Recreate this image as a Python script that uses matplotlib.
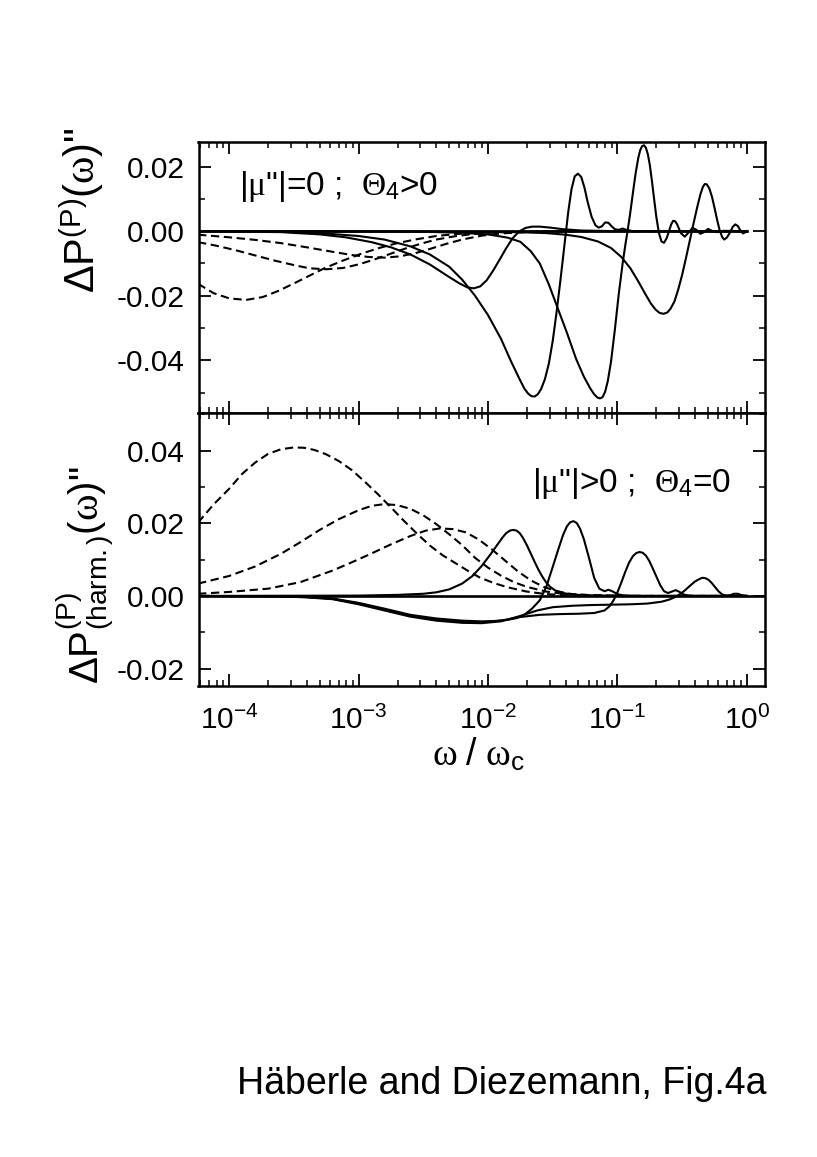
import numpy as np
import matplotlib
matplotlib.use("Agg")
import matplotlib.pyplot as plt
from matplotlib.ticker import LogLocator, FuncFormatter, MultipleLocator, FormatStrFormatter, NullFormatter

plt.rcParams['font.family'] = 'Liberation Sans'
plt.rcParams['mathtext.fontset'] = 'custom'
plt.rcParams['mathtext.rm'] = 'Liberation Serif'
plt.rcParams['mathtext.sf'] = 'Liberation Sans'
plt.rcParams['mathtext.it'] = 'Liberation Serif:italic'
plt.rcParams['axes.unicode_minus'] = False

# ---- data (x given as log10(omega/omega_c)) ----
XLIM = (5.8e-5, 1.38)
TOP_YLIM = (-0.0564, 0.0277)
BOT_YLIM = (-0.0248, 0.0503)
zero_logw = [-4.24, 0.0]
zero_vals = [0.0, 0.0]

# upper panel, dashed
d1_logw = [-4.24, -4.12, -4.0, -3.87, -3.74, -3.62, -3.5, -3.38, -3.26, -3.12, -2.98, -2.84,
           -2.7, -2.55, -2.4, -2.25, -2.1, -1.9, -1.6, -1.2, 0.0]
d1_vals = [-0.0163, -0.0192, -0.0208, -0.0213, -0.0204, -0.0185, -0.0162, -0.0138, -0.0114,
           -0.0091, -0.0070, -0.0052, -0.0037, -0.0025, -0.0015, -0.0009, -0.0005, -0.0002,
           -0.0001, 0.0, 0.0]
d2_logw = [-4.24, -4.1, -3.95, -3.8, -3.65, -3.5, -3.38, -3.25, -3.12, -3.0, -2.88, -2.76,
           -2.64, -2.52, -2.4, -2.26, -2.12, -1.95, -1.75, -1.5, -1.2, 0.0]
d2_vals = [-0.0034, -0.0045, -0.0059, -0.0075, -0.0091, -0.0105, -0.0115, -0.0118, -0.0114,
           -0.0103, -0.0088, -0.0071, -0.0054, -0.0039, -0.0026, -0.0016, -0.0009, -0.0004,
           -0.0002, -0.0001, 0.0, 0.0]
d3_logw = [-4.24, -4.0, -3.8, -3.6, -3.4, -3.2, -3.05, -2.92, -2.8, -2.68, -2.56, -2.44,
           -2.32, -2.2, -2.05, -1.9, -1.7, -1.45, -1.1, 0.0]
d3_vals = [-0.0011, -0.0019, -0.0027, -0.0037, -0.0050, -0.0064, -0.0074, -0.0080, -0.0082,
           -0.0078, -0.0068, -0.0054, -0.0039, -0.0026, -0.0014, -0.0007, -0.0003, -0.0001,
           0.0, 0.0]

# upper panel, solid
sa_logw = [-4.24, -3.6, -3.3, -3.1, -2.9, -2.75, -2.6, -2.45, -2.3, -2.22, -2.16, -2.11,
           -2.06, -2.01, -1.96, -1.91, -1.86, -1.81, -1.76, -1.71, -1.66, -1.6, -1.52, -1.42,
           -1.28, -1.0, 0.0]
sa_vals = [0.0, -0.0003, -0.0010, -0.0019, -0.0034, -0.0050, -0.0072, -0.0103, -0.0142,
           -0.0162, -0.0174, -0.0177, -0.0171, -0.0152, -0.0122, -0.0088, -0.0053, -0.0022,
           -0.0001, 0.0010, 0.0014, 0.0014, 0.0011, 0.0006, 0.0002, 0.0, 0.0]
sb_logw = [-4.24, -3.6, -3.3, -3.0, -2.8, -2.6, -2.45, -2.3, -2.2, -2.1, -2.0, -1.9, -1.82,
           -1.76, -1.72, -1.69, -1.665, -1.64, -1.615, -1.59, -1.56, -1.53, -1.5, -1.47,
           -1.44, -1.41, -1.38, -1.355, -1.33, -1.305, -1.28, -1.255, -1.23, -1.2, -1.17,
           -1.145, -1.12, -1.095, -1.07, -1.045, -1.02, -0.99, -0.96, -0.93, -0.88, 0.0]
sb_vals = [0.0, -0.0002, -0.0006, -0.0015, -0.0026, -0.0047, -0.0072, -0.0110, -0.0150,
           -0.0200, -0.0260, -0.0333, -0.0405, -0.0455, -0.0487, -0.0503, -0.0511, -0.0512,
           -0.0505, -0.0489, -0.0458, -0.0410, -0.0340, -0.0250, -0.0150, -0.0045, 0.0060,
           0.0130, 0.0170, 0.0178, 0.0168, 0.0135, 0.0090, 0.0045, 0.0018, 0.0011, 0.0015,
           0.0027, 0.0026, 0.0015, 0.0006, 0.0004, 0.0008, 0.0004, 0.0, 0.0]
sc_logw = [-4.24, -2.5, -2.2, -2.0, -1.85, -1.75, -1.67, -1.6, -1.53, -1.46, -1.39, -1.32,
           -1.26, -1.21, -1.18, -1.155, -1.135, -1.115, -1.095, -1.075, -1.05, -1.02, -0.99,
           -0.96, -0.94, -0.92, -0.9, -0.88, -0.86, -0.84, -0.825, -0.81, -0.795, -0.78,
           -0.765, -0.75, -0.735, -0.72, -0.7, -0.68, -0.66, -0.64, -0.62, -0.6, -0.585,
           -0.57, -0.555, -0.54, -0.51, -0.48, -0.45, -0.42, -0.39, -0.36, -0.33, -0.3,
           -0.27, -0.23, -0.18, 0.0]
sc_vals = [0.0, -0.0002, -0.0005, -0.0010, -0.0020, -0.0033, -0.0062, -0.0100, -0.0165,
           -0.0240, -0.0315, -0.0395, -0.0450, -0.0487, -0.0505, -0.0515, -0.0518, -0.0514,
           -0.0497, -0.0465, -0.0405, -0.0305, -0.0195, -0.0100, -0.0045, 0.0005, 0.0060,
           0.0120, 0.0178, 0.0225, 0.0250, 0.0263, 0.0266, 0.0258, 0.0238, 0.0205, 0.0160,
           0.0110, 0.0045, -0.0005, -0.0032, -0.0036, -0.0022, 0.0002, 0.0021, 0.0032,
           0.0031, 0.0022, -0.0006, -0.0017, -0.0004, 0.0010, 0.0004, -0.0008, -0.0003,
           0.0007, 0.0001, -0.0003, 0.0001, 0.0]
sd_logw = [-4.24, -2.2, -1.9, -1.7, -1.55, -1.4, -1.28, -1.15, -1.05, -0.97, -0.9, -0.84,
           -0.78, -0.74, -0.705, -0.675, -0.645, -0.615, -0.59, -0.56, -0.53, -0.5, -0.47,
           -0.44, -0.41, -0.385, -0.36, -0.34, -0.325, -0.31, -0.29, -0.27, -0.25, -0.23,
           -0.21, -0.19, -0.175, -0.155, -0.13, -0.11, -0.09, -0.07, -0.05, -0.03, -0.01,
           0.0]
sd_vals = [0.0, -0.0001, -0.0002, -0.0004, -0.0006, -0.0011, -0.0018, -0.0032, -0.0052,
           -0.0080, -0.0115, -0.0155, -0.0198, -0.0225, -0.0243, -0.0253, -0.0256, -0.0252,
           -0.0240, -0.0218, -0.0180, -0.0135, -0.0082, -0.0027, 0.0028, 0.0072, 0.0113,
           0.0137, 0.0146, 0.0145, 0.0132, 0.0107, 0.0072, 0.0035, 0.0002, -0.0019, -0.0026,
           -0.0020, -0.0004, 0.0013, 0.0021, 0.0016, 0.0002, -0.0007, -0.0003, 0.0]

# lower panel, dashed
b1_logw = [-4.24, -4.12, -4.0, -3.9, -3.8, -3.7, -3.6, -3.5, -3.42, -3.34, -3.25, -3.15,
           -3.05, -2.95, -2.85, -2.75, -2.65, -2.55, -2.45, -2.35, -2.25, -2.15, -2.06,
           -1.95, -1.85, -1.7, -1.55, -1.4, -1.2, -0.9, 0.0]
b1_vals = [0.0202, 0.0252, 0.0295, 0.0336, 0.0367, 0.0391, 0.0404, 0.0409, 0.0408, 0.0402,
           0.0390, 0.0371, 0.0346, 0.0314, 0.0280, 0.0244, 0.0207, 0.0172, 0.0139, 0.0112,
           0.0090, 0.0068, 0.0050, 0.0035, 0.0024, 0.0012, 0.0005, 0.0002, 0.0001, 0.0, 0.0]
b2_logw = [-4.24, -4.0, -3.8, -3.6, -3.45, -3.3, -3.15, -3.0, -2.9, -2.8, -2.7, -2.6, -2.5,
           -2.4, -2.3, -2.2, -2.1, -2.0, -1.9, -1.8, -1.7, -1.55, -1.4, -1.2, -0.9, 0.0]
b2_vals = [0.0034, 0.0055, 0.0081, 0.0116, 0.0148, 0.0182, 0.0212, 0.0236, 0.0248, 0.0253,
           0.0250, 0.0240, 0.0222, 0.0198, 0.0170, 0.0140, 0.0105, 0.0078, 0.0056, 0.0038,
           0.0025, 0.0012, 0.0005, 0.0002, 0.0, 0.0]
b3_logw = [-4.24, -4.0, -3.7, -3.45, -3.2, -3.05, -2.9, -2.75, -2.6, -2.48, -2.37, -2.27,
           -2.17, -2.07, -1.97, -1.87, -1.77, -1.67, -1.57, -1.47, -1.35, -1.2, -1.0, 0.0]
b3_vals = [0.0006, 0.0011, 0.0020, 0.0038, 0.0070, 0.0093, 0.0117, 0.0142, 0.0165, 0.0180,
           0.0186, 0.0184, 0.0175, 0.0155, 0.0128, 0.0098, 0.0068, 0.0043, 0.0025, 0.0013,
           0.0005, 0.0002, 0.0, 0.0]

# lower panel, solid
p1_logw = [-4.24, -3.0, -2.7, -2.5, -2.4, -2.3, -2.2, -2.12, -2.05, -1.98, -1.93, -1.89,
           -1.86, -1.83, -1.805, -1.78, -1.755, -1.73, -1.7, -1.67, -1.64, -1.61, -1.58,
           -1.55, -1.52, -1.48, -1.42, -1.35, -1.2, -1.0, 0.0]
p1_vals = [0.0, 0.0001, 0.0003, 0.0006, 0.0010, 0.0018, 0.0034, 0.0055, 0.0082, 0.0115,
           0.0140, 0.0160, 0.0173, 0.0180, 0.0182, 0.0180, 0.0173, 0.0160, 0.0140, 0.0117,
           0.0094, 0.0072, 0.0053, 0.0037, 0.0025, 0.0015, 0.0008, 0.0004, 0.0001, 0.0, 0.0]
p2_logw = [-4.24, -3.6, -3.4, -3.2, -3.0, -2.8, -2.6, -2.4, -2.2, -2.05, -1.95, -1.85,
           -1.78, -1.72, -1.66, -1.6, -1.55, -1.5, -1.46, -1.42, -1.39, -1.365, -1.34, -1.315,
           -1.29, -1.26, -1.22, -1.18, -1.14, -1.1, -1.07, -1.04, -1.0, -0.95, -0.8, 0.0]
p2_vals = [0.0, -0.0001, -0.0003, -0.0007, -0.0019, -0.0035, -0.0052, -0.0062, -0.0068,
           -0.0070, -0.0069, -0.0066, -0.0061, -0.0052, -0.0035, -0.0012, 0.0025, 0.0080,
           0.0125, 0.0168, 0.0192, 0.0203, 0.0206, 0.0201, 0.0186, 0.0157, 0.0105, 0.0050,
           0.0020, 0.0013, 0.0017, 0.0013, 0.0005, 0.0001, 0.0, 0.0]
p3_logw = [-4.24, -3.6, -3.4, -3.2, -3.0, -2.8, -2.6, -2.4, -2.2, -2.05, -1.9, -1.75, -1.6,
           -1.45, -1.3, -1.18, -1.1, -1.06, -1.03, -1.0, -0.97, -0.94, -0.91, -0.88, -0.855,
           -0.83, -0.805, -0.78, -0.755, -0.73, -0.7, -0.67, -0.64, -0.61, -0.58, -0.55,
           -0.52, -0.49, -0.45, -0.4, -0.3, 0.0]
p3_vals = [0.0, -0.0001, -0.0003, -0.0008, -0.0021, -0.0038, -0.0055, -0.0066, -0.0072,
           -0.0073, -0.0068, -0.0058, -0.0052, -0.0050, -0.0049, -0.0047, -0.0040, -0.0028,
           -0.0012, 0.0010, 0.0037, 0.0066, 0.0092, 0.0110, 0.0118, 0.0121, 0.0119, 0.0111,
           0.0097, 0.0078, 0.0054, 0.0030, 0.0013, 0.0008, 0.0012, 0.0016, 0.0011, 0.0004,
           0.0001, 0.0, 0.0, 0.0]
p4_logw = [-4.24, -3.6, -3.4, -3.2, -3.0, -2.8, -2.6, -2.4, -2.2, -2.05, -1.9, -1.75, -1.62,
           -1.5, -1.35, -1.2, -1.05, -0.9, -0.77, -0.66, -0.6, -0.56, -0.52, -0.48, -0.44,
           -0.4, -0.37, -0.345, -0.32, -0.295, -0.27, -0.245, -0.22, -0.19, -0.16, -0.13,
           -0.1, -0.07, -0.04, 0.0]
p4_vals = [0.0, -0.0001, -0.0004, -0.0009, -0.0023, -0.0040, -0.0057, -0.0068, -0.0074,
           -0.0075, -0.0070, -0.0055, -0.0040, -0.0031, -0.0027, -0.0025, -0.0024, -0.0023,
           -0.0021, -0.0016, -0.0010, -0.0004, 0.0004, 0.0015, 0.0028, 0.0040, 0.0046,
           0.0050, 0.0049, 0.0044, 0.0035, 0.0024, 0.0013, 0.0004, 0.0001, 0.0002, 0.0006,
           0.0006, 0.0002, 0.0]

top_dashed = [(d1_logw, d1_vals), (d2_logw, d2_vals), (d3_logw, d3_vals)]
top_solid = [(sa_logw, sa_vals), (sb_logw, sb_vals), (sc_logw, sc_vals), (sd_logw, sd_vals)]
bot_dashed = [(b1_logw, b1_vals), (b2_logw, b2_vals), (b3_logw, b3_vals)]
bot_solid = [(p1_logw, p1_vals), (p2_logw, p2_vals), (p3_logw, p3_vals), (p4_logw, p4_vals)]

LW = 1.5
DASH = (4.0, 2.2)


def w(logs):
    return 10.0 ** np.asarray(logs)


def sci_label(v, pos):
    e = int(round(np.log10(v)))
    return r"$\mathsf{10^{%d}}$" % e


def style_axes(ax, ylim, show_xlabels):
    ax.set_xscale('log')
    ax.set_xlim(*XLIM)
    ax.set_ylim(*ylim)
    ax.xaxis.set_major_locator(LogLocator(base=10, numticks=20))
    ax.xaxis.set_minor_locator(LogLocator(base=10, subs=np.arange(2, 10), numticks=20))
    ax.xaxis.set_minor_formatter(NullFormatter())
    if show_xlabels:
        ax.xaxis.set_major_formatter(FuncFormatter(sci_label))
    else:
        ax.xaxis.set_major_formatter(NullFormatter())
    ax.yaxis.set_major_locator(MultipleLocator(0.02))
    ax.yaxis.set_minor_locator(MultipleLocator(0.01))
    ax.yaxis.set_major_formatter(FormatStrFormatter('%.2f'))
    ax.tick_params(which='both', direction='in', top=True, right=True)
    ax.tick_params(which='major', length=8.5, width=1.3)
    ax.tick_params(which='minor', length=4.3, width=1.1)
    ax.tick_params(axis='y', which='major', labelsize=21.5, pad=10)
    ax.tick_params(axis='x', which='major', labelsize=21.5, pad=14)
    for sp in ax.spines.values():
        sp.set_linewidth(1.8)


fig = plt.figure(figsize=(8.17, 11.57), dpi=100)
L, W = 198.5 / 817, 566.5 / 817
ax1 = fig.add_axes([L, (1157 - 413.3) / 1157, W, 271.6 / 1157])
ax2 = fig.add_axes([L, (1157 - 686) / 1157, W, 272.7 / 1157])

# upper panel
ax1.plot(w(zero_logw), zero_vals, color='black', lw=1.9)
for lw_, v_ in top_dashed:
    ax1.plot(w(lw_), v_, color='black', lw=LW, linestyle=(0, DASH))
for lw_, v_ in top_solid:
    ax1.plot(w(lw_), v_, color='black', lw=LW)
style_axes(ax1, TOP_YLIM, False)
ax1.text(0.0715, 0.804, r'|$\mathrm{\mu}$"|=0 ;  $\mathrm{\Theta}_{\mathsf{4}}$>0',
         transform=ax1.transAxes, fontsize=24, va='baseline', ha='left')

# lower panel
ax2.axhline(0, color='black', lw=1.9)
for lw_, v_ in bot_dashed:
    ax2.plot(w(lw_), v_, color='black', lw=LW, linestyle=(0, DASH))
for lw_, v_ in bot_solid:
    ax2.plot(w(lw_), v_, color='black', lw=LW)
style_axes(ax2, BOT_YLIM, True)
ax2.text(0.589, 0.7125, r'|$\mathrm{\mu}$"|>0 ;  $\mathrm{\Theta}_{\mathsf{4}}$=0',
         transform=ax2.transAxes, fontsize=24, va='baseline', ha='left')

# axis labels
fig.text(82 / 817, 1 - 210 / 1157,
         r"$\mathsf{\Delta P}^{\mathsf{(P)}}\mathsf{(}\mathrm{\omega}\mathsf{)}$" + '"',
         rotation=90, fontsize=30, ha='center', va='center')
fig.text(85 / 817, 1 - 575 / 1157,
         r"$\mathsf{\Delta P}^{\mathsf{(P)}}_{\mathsf{(harm.)}}\mathsf{(}\mathrm{\omega}\mathsf{)}$" + '"',
         rotation=90, fontsize=29, ha='center', va='center')
fig.text(478.5 / 817, 1 - 766 / 1157,
         r"$\mathrm{\omega}\ \mathsf{/}\ \mathrm{\omega}_{\mathsf{c}}$",
         fontsize=27, ha='center', va='baseline')

fig.text(237 / 817, 1 - 1094 / 1157, "Häberle and Diezemann, Fig.4a",
         fontsize=27, ha='left', va='baseline')

fig.savefig('out.png', dpi=100)
